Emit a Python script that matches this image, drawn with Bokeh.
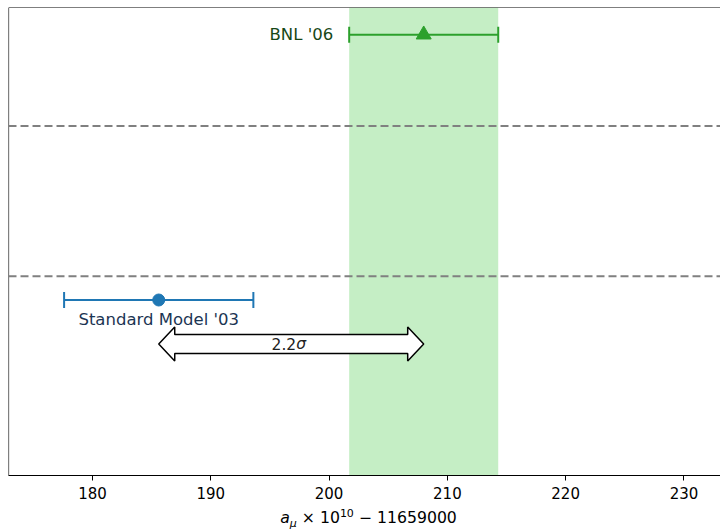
from bokeh.plotting import figure
from bokeh.models import Range1d, Span, BoxAnnotation, Label, Whisker, TeeHead, ColumnDataSource, FixedTicker, Div
from bokeh.layouts import column
from bokeh.embed import file_html
from bokeh.resources import INLINE

# data
names = ["BNL '06", "Standard Model '03"]
values = [208.0, 185.6]
errors = [6.3, 8.0]
row_y = [9.42, 3.75]          # vertical rows (arbitrary units)
separators = [7.47, 4.26]
arrow_y = 2.81
sigma_label = "2.2"
x_ticks = [180, 190, 200, 210, 220, 230]

GREEN = "#2ca02c"
BLUE = "#1f77b4"
FONT = "DejaVu Sans"

x0, x1 = 172.9, 233.09
FRAME_W, FRAME_H = 712, 468
p = figure(width=720, height=512, x_range=Range1d(x0, x1), y_range=Range1d(0, 10),
           output_backend="svg", toolbar_location=None, y_axis_location=None,
           min_border_left=8, min_border_right=0, min_border_top=7, min_border_bottom=37)
p.outline_line_color = None
p.grid.visible = False
p.background_fill_color = "white"
p.border_fill_color = "white"

ax = p.xaxis[0]
ax.ticker = FixedTicker(ticks=x_ticks)
ax.minor_tick_line_color = None
ax.major_tick_out = 5
ax.major_tick_in = 0
ax.major_tick_line_color = "black"
ax.major_tick_line_width = 1
ax.axis_line_color = "black"
ax.axis_line_width = 1.2
ax.major_label_text_font = FONT
ax.major_label_text_font_size = "15px"
ax.major_label_text_color = "black"
ax.major_label_standoff = 6

# spines left and top
p.add_layout(Span(location=x0, dimension="height", line_color="black", line_width=1.2))
p.add_layout(Span(location=10, dimension="width", line_color="black", line_width=1.2))

# BNL band
p.add_layout(BoxAnnotation(left=values[0] - errors[0], right=values[0] + errors[0],
                           fill_color="#c5eec5", fill_alpha=1.0, line_color=None, level="underlay"))

# separators
for s in separators:
    p.add_layout(Span(location=s, dimension="width", line_color="#808080",
                      line_width=2, line_dash="8 4"))

# error bars
for v, e, y, c in [(values[0], errors[0], row_y[0], GREEN), (values[1], errors[1], row_y[1], BLUE)]:
    src = ColumnDataSource(dict(base=[y], lower=[v - e], upper=[v + e]))
    w = Whisker(source=src, base="base", lower="lower", upper="upper", dimension="width",
                line_color=c, line_width=2,
                lower_head=TeeHead(size=16, line_color=c, line_width=2),
                upper_head=TeeHead(size=16, line_color=c, line_width=2))
    p.add_layout(w)

p.scatter([values[0]], [row_y[0]], marker="triangle", size=15, color=GREEN)
p.scatter([values[1]], [row_y[1]], marker="circle", size=12, color=BLUE)

# labels
p.add_layout(Label(x=values[0] - errors[0], y=row_y[0], text=names[0], x_offset=-16,
                   text_align="right", text_baseline="middle", text_font=FONT,
                   text_font_size="16.5px", text_color="#174717"))
p.add_layout(Label(x=values[1], y=row_y[1], text=names[1], y_offset=-19,
                   text_align="center", text_baseline="middle", text_font=FONT,
                   text_font_size="16.5px", text_color="#1c3553"))

# double arrow between the two central values
xa, xb = values[1], values[0]
ppu_x = FRAME_W / (x1 - x0)
ppu_y = FRAME_H / 10.0
head_len = 16 / ppu_x
shaft_h = 9.5 / ppu_y
head_h = 17 / ppu_y
ax_pts = [xa, xa + head_len, xa + head_len, xb - head_len, xb - head_len, xb,
          xb - head_len, xb - head_len, xa + head_len, xa + head_len]
ay_pts = [arrow_y, arrow_y + head_h, arrow_y + shaft_h, arrow_y + shaft_h, arrow_y + head_h, arrow_y,
          arrow_y - head_h, arrow_y - shaft_h, arrow_y - shaft_h, arrow_y - head_h]
p.patch(ax_pts, ay_pts, fill_color="white", line_color="black", line_width=1.5)
xm = (xa + xb) / 2
p.add_layout(Label(x=xm, y=arrow_y, text=sigma_label, x_offset=5, text_align="right",
                   text_baseline="middle", text_font=FONT, text_font_size="15.5px", text_color="#222222"))
p.add_layout(Label(x=xm, y=arrow_y, text="σ", x_offset=5, text_align="left",
                   text_baseline="middle", text_font=FONT, text_font_style="italic",
                   text_font_size="15.5px", text_color="#222222"))

# x axis label: a_mu x 10^10 - 11659000
xlabel_html = ("<i>a</i><sub style='font-size:11px'><i>μ</i></sub> × 10"
               "<sup style='font-size:11px'>10</sup> − 11659000")
div = Div(text=xlabel_html, width=720, height=24,
          styles={"font-family": "'DejaVu Sans'", "font-size": "15.7px", "color": "black",
                  "text-align": "center", "padding-left": "7px", "line-height": "20px",
                  "box-sizing": "border-box", "width": "720px", "margin-top": "-8px"})

layout = column(p, div, spacing=0)
open("out.html", "w").write(file_html(layout, INLINE))
